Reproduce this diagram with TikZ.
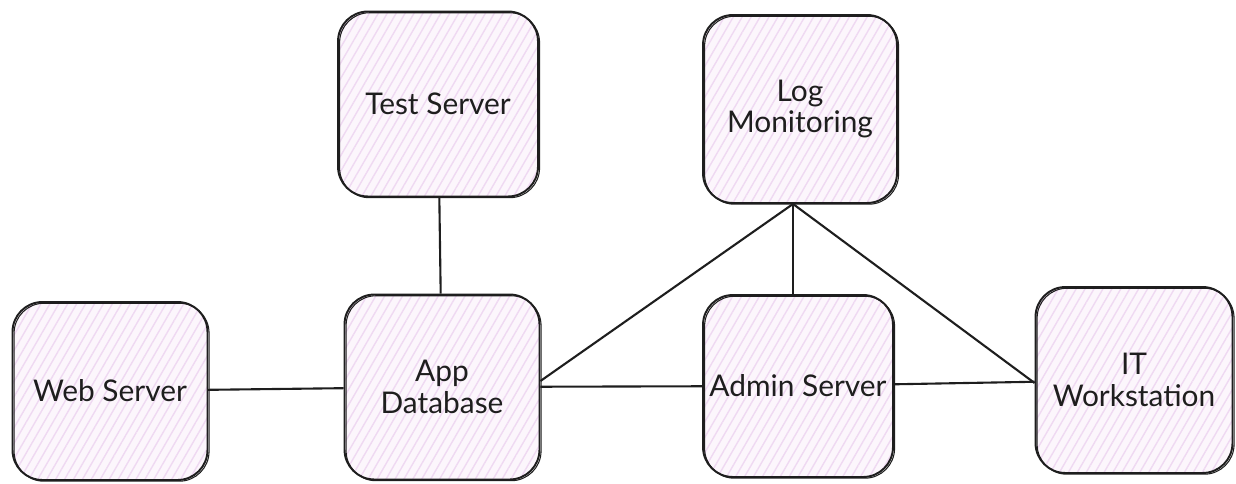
\documentclass[tikz,border=0pt]{standalone}
\usepackage{fontspec}
\setmainfont{Lato}
\usetikzlibrary{patterns.meta}
\definecolor{boxfill}{HTML}{FCF6FC}
\definecolor{hatch}{HTML}{EFD9F2}
\definecolor{ink}{HTML}{1E1E1E}
\tikzset{
  host/.style={draw=ink, line width=1.1pt, rounded corners=17pt, align=center,
    inner sep=2pt, text=ink, font=\fontsize{17}{18}\selectfont,
    preaction={fill=boxfill},
    pattern={Lines[angle=60,distance=4.4pt,line width=0.8pt]}, pattern color=hatch,
    postaction={draw=ink, line width=0.6pt, transform canvas={shift={(0.9pt,-0.7pt)}}}},
  link/.style={draw=ink, line width=1.2pt}
}

\begin{document}
\begin{tikzpicture}[x=0.02cm,y=-0.02cm]
    \useasboundingbox (0,0) rectangle (1236,483);
    % hosts, placed by their centres in pixel units
    \node[host, minimum width=3.9cm, minimum height=3.56cm] (web) at (110,391) {Web Server};
    \node[host, minimum width=4.0cm, minimum height=3.7cm] (test) at (438,104) {Test Server};
    \node[host, minimum width=3.88cm, minimum height=3.76cm] (log) at (800,109) {Log\\Monitoring};
    \node[host, minimum width=3.9cm, minimum height=3.7cm] (app) at (442,387) {App\\Database};
    \node[host, minimum width=3.8cm, minimum height=3.64cm] (admin) at (798,386) {Admin Server};
    \node[host, minimum width=3.94cm, minimum height=3.72cm] (it) at (1134,380) {IT\\Workstation};
    \coordinate (hub) at ([xshift=-0.14cm]log.south);
    % links
    \draw[link] (web) -- (app);
    \draw[link] (test) -- (app);
    \draw[link] (app) -- (admin);
    \draw[link] (admin) -- (it);
    \draw[link] (hub) -- ([yshift=0.12cm]app.east);
    \draw[link] (hub) -- (hub |- admin.north);
    \draw[link] (hub) -- ([yshift=-0.06cm]it.west);
\end{tikzpicture}
\end{document}
